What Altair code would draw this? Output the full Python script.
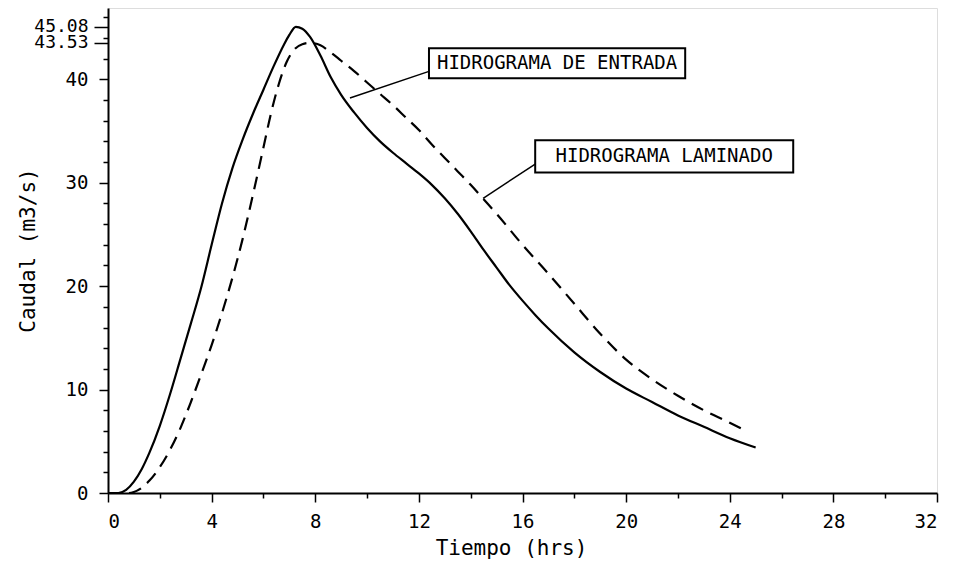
import altair as alt
import pandas as pd

# --- Data -------------------------------------------------------------------
entrada_t = [0, 0.4, 0.7, 1.0, 1.3, 1.6, 2.0, 2.4, 2.8, 3.2, 3.6, 4.0, 4.4,
             4.8, 5.2, 5.6, 6.0, 6.4, 6.8, 7.0, 7.25, 7.5, 7.8, 8.2, 8.6,
             9.0, 9.5, 10.0, 10.5, 11.0, 11.5, 12.0, 12.5, 13.0, 13.5, 14.0,
             14.5, 15.0, 15.5, 16.0, 16.5, 17.0, 18.0, 19.0, 20.0, 21.0, 22.0,
             23.0, 24.0, 25.0]
entrada_q = [0, 0, 0.3, 1.1, 2.3, 3.9, 6.5, 9.6, 13.0, 16.4, 19.9, 24.0, 28.0,
             31.4, 34.2, 36.7, 39.0, 41.3, 43.4, 44.3, 45.08, 44.9, 44.1, 42.3,
             40.2, 38.5, 36.8, 35.3, 34.0, 32.9, 31.9, 30.9, 29.8, 28.5, 27.0,
             25.3, 23.5, 21.8, 20.1, 18.6, 17.2, 15.9, 13.6, 11.7, 10.1, 8.8,
             7.5, 6.4, 5.3, 4.4]

laminado_t = [0, 0.8, 1.0, 1.3, 1.6, 2.0, 2.4, 2.8, 3.2, 3.6, 4.0, 4.4, 4.8,
              5.2, 5.6, 6.0, 6.3, 6.6, 6.9, 7.2, 7.5, 7.8, 8.2, 8.6, 9.0, 9.5,
              10.0, 10.5, 11.0, 11.5, 12.0, 12.5, 13.0, 13.5, 14.0, 14.5, 15.0,
              16.0, 17.0, 18.0, 19.0, 20.0, 21.0, 22.0, 23.0, 24.0, 24.7]
laminado_q = [0, 0, 0.1, 0.5, 1.2, 2.5, 4.2, 6.3, 8.8, 11.5, 14.3, 17.4, 20.8,
              24.6, 28.9, 33.4, 36.8, 39.6, 41.7, 42.9, 43.4, 43.53, 43.3,
              42.6, 41.8, 40.8, 39.7, 38.6, 37.5, 36.3, 35.1, 33.7, 32.4, 31.1,
              29.8, 28.4, 27.0, 24.0, 21.2, 18.3, 15.4, 12.9, 11.0, 9.4, 8.0,
              6.8, 5.9]

x_major = [0, 4, 8, 12, 16, 20, 24, 28, 32]
x_minor = [2, 6, 10, 14, 18, 22, 26, 30]
y_major = [0, 10, 20, 30, 40]
y_peaks = [43.53, 45.08]
y_minor = [2, 4, 6, 8, 12, 14, 16, 18, 22, 24, 26, 28, 32, 34, 36, 38, 42, 44, 46]

box_labels = ["HIDROGRAMA DE ENTRADA", "HIDROGRAMA LAMINADO"]
box_x1 = [12.39, 16.49]
box_x2 = [22.28, 26.45]
box_y1 = [40.1, 31.0]
box_y2 = [43.0, 34.1]
leader_x1 = [12.39, 16.49]
leader_y1 = [40.77, 31.8]
leader_x2 = [9.34, 14.48]
leader_y2 = [38.2, 28.5]

FONT = "DejaVu Sans Mono"

df_e = pd.DataFrame({"t": entrada_t, "q": entrada_q})
df_l = pd.DataFrame({"t": laminado_t, "q": laminado_q})
df_box = pd.DataFrame({
    "label": box_labels, "x1": box_x1, "x2": box_x2, "y1": box_y1, "y2": box_y2,
    "xc": [(a + b) / 2 for a, b in zip(box_x1, box_x2)],
    "yc": [(a + b) / 2 for a, b in zip(box_y1, box_y2)],
})
df_lead = pd.DataFrame({"x1": leader_x1, "y1": leader_y1,
                        "x2": leader_x2, "y2": leader_y2})

xs = alt.Scale(domain=[0, 32], nice=False, zero=False)
ys = alt.Scale(domain=[0, 46.9], nice=False, zero=False)

base_axis = dict(domainColor="black", tickColor="black", labelColor="black",
                 grid=False, labelFont=FONT, domainWidth=2, tickWidth=1.5)
title_style = dict(titleColor="black", titleFont=FONT, titleFontWeight="normal",
                   titleFontSize=21, titleBaseline="middle", titleAlign="center")

x_main = alt.Axis(values=x_major, tickSize=9, labelPadding=10, labelFontSize=19,
                  title="Tiempo (hrs)", titleX=403, titleY=55,
                  orient="bottom", **base_axis, **title_style)
y_main = alt.Axis(values=y_major, tickSize=9, labelPadding=11, labelFontSize=19,
                  title="Caudal (m3/s)", titleAngle=270,
                  titleX=-80, titleY=242, orient="left",
                  **base_axis, **title_style)

solid = alt.Chart(df_e).mark_line(color="black", strokeWidth=2.2,
                                  interpolate="monotone").encode(
    x=alt.X("t:Q", scale=xs, axis=x_main),
    y=alt.Y("q:Q", scale=ys, axis=y_main),
)

dashed = alt.Chart(df_l).mark_line(color="black", strokeWidth=2.2,
                                   strokeDash=[13, 8],
                                   interpolate="monotone").encode(
    x=alt.X("t:Q", scale=xs, axis=None),
    y=alt.Y("q:Q", scale=ys, axis=alt.Axis(
        values=y_peaks, tickSize=14, labelPadding=6, labelFontSize=18,
        title=None, orient="left", domain=False, format=".2f",
        labelOverlap=False, **base_axis)),
)

minor = alt.Chart(df_e).mark_line(opacity=0).encode(
    x=alt.X("t:Q", scale=xs, axis=alt.Axis(
        values=x_minor, tickSize=5, labels=False, title=None, domain=False,
        orient="bottom", tickColor="black", tickWidth=1.5, grid=False)),
    y=alt.Y("q:Q", scale=ys, axis=alt.Axis(
        values=y_minor, tickSize=5, labels=False, title=None, domain=False,
        orient="left", tickColor="black", tickWidth=1.5, grid=False)),
)

leaders = alt.Chart(df_lead).mark_rule(color="black", strokeWidth=1.5).encode(
    x=alt.X("x1:Q", scale=xs, axis=None),
    y=alt.Y("y1:Q", scale=ys, axis=None),
    x2="x2:Q", y2="y2:Q",
)

boxes = alt.Chart(df_box).mark_rect(fill="white", stroke="black",
                                    strokeWidth=2).encode(
    x=alt.X("x1:Q", scale=xs, axis=None), x2="x2:Q",
    y=alt.Y("y1:Q", scale=ys, axis=None), y2="y2:Q",
)

texts = alt.Chart(df_box).mark_text(font=FONT, fontSize=19, color="black",
                                    align="center", baseline="middle").encode(
    x=alt.X("xc:Q", scale=xs, axis=None),
    y=alt.Y("yc:Q", scale=ys, axis=None),
    text="label:N",
)

chart = alt.layer(solid, dashed, minor, leaders, boxes, texts).resolve_axis(
    x="independent", y="independent"
).properties(
    width=829, height=485,
    autosize=alt.AutoSizeParams(type="none"),
    padding={"left": 100, "top": 0, "right": 8, "bottom": 72},
).configure_view(stroke=None).configure(background="white")

chart.save("out.html", embed_options={"renderer": "svg", "actions": False})
